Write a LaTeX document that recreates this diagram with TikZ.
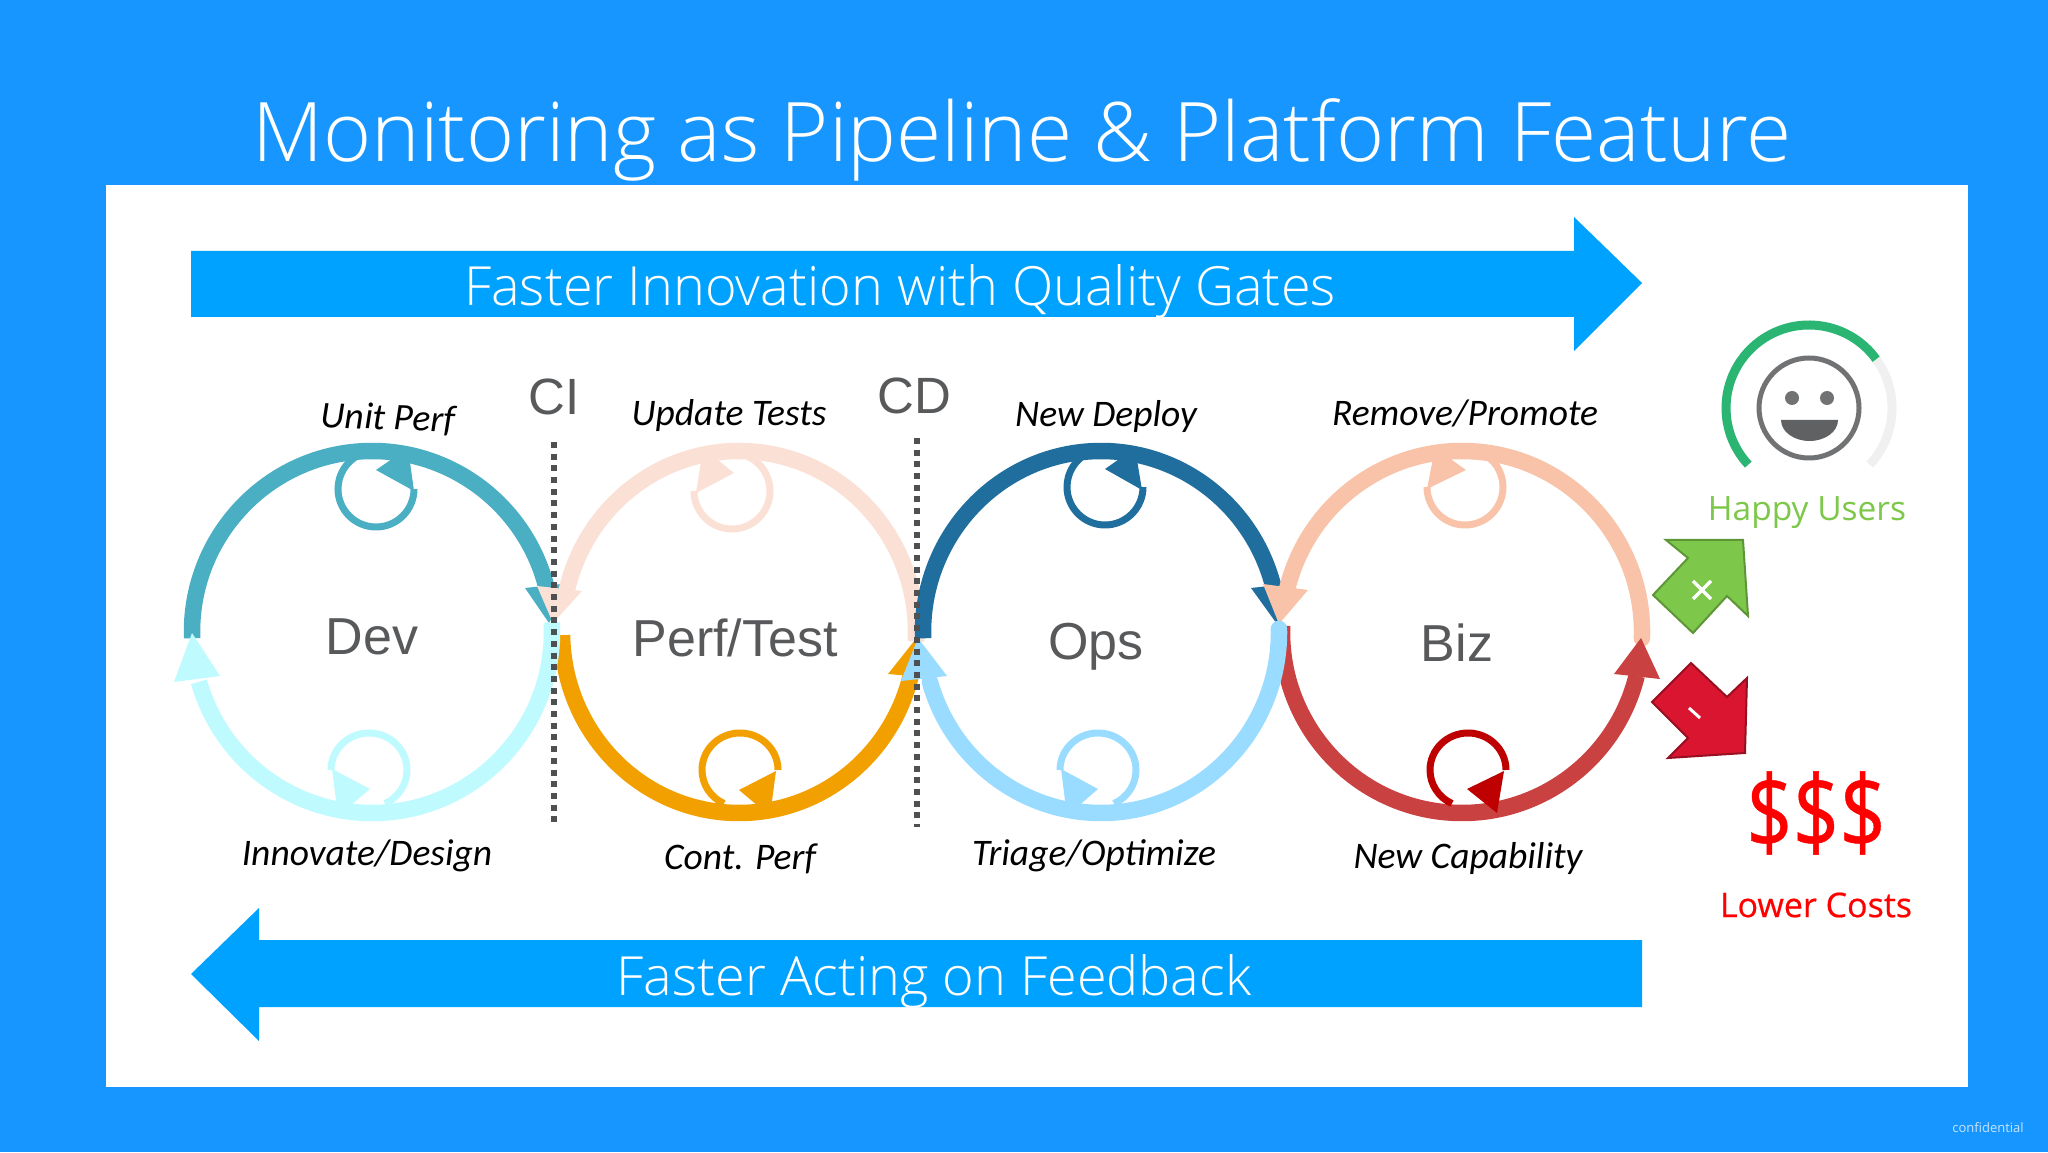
\documentclass[tikz,border=0pt]{standalone}
\usepackage{fontspec}
\setmainfont{Open Sans}
\newfontfamily\lightfont{Open Sans Light}
\newfontfamily\heavyfont{Open Sans}[FakeBold=0.5]
\newfontfamily\ringfont{Liberation Sans}
\newfontfamily\labelfont{Carlito}
\usepackage{xcolor}
\definecolor{skyback}{HTML}{1796FF}
\definecolor{barblue}{HTML}{00A2FF}
\definecolor{devtop}{HTML}{4BAFC4}
\definecolor{devbot}{HTML}{BFFAFE}
\definecolor{perftop}{HTML}{FBE0D5}
\definecolor{perfbot}{HTML}{F2A000}
\definecolor{opstop}{HTML}{1F6E9E}
\definecolor{opsbot}{HTML}{9ADCFF}
\definecolor{biztop}{HTML}{F8C3A9}
\definecolor{bizbot}{HTML}{C94140}
\definecolor{bizloop}{HTML}{BE0000}
\definecolor{darkgrey}{HTML}{58595B}
\definecolor{happygreen}{HTML}{7DC84A}
\definecolor{gaugegreen}{HTML}{2BB573}
\definecolor{downred}{HTML}{DA1530}
\tikzset{
  ring/.style={line width=16.5pt},
  curl/.style={line width=7pt},
  gate/.style={dash pattern=on 6pt off 5.7pt,line width=6pt,color=darkgrey!90!black},
  step name/.style={font=\ringfont\fontsize{52}{62}\selectfont,text=darkgrey},
  gate name/.style={font=\ringfont\fontsize{51}{60}\selectfont,text=darkgrey},
  act name/.style={font=\labelfont\itshape\fontsize{37.5}{44}\selectfont,text=black},
  bar name/.style={font=\lightfont\fontsize{54}{64}\selectfont,text=white},
}

\begin{document}
\begin{tikzpicture}[x=1pt,y=1pt]
\useasboundingbox (0,0) rectangle (2048,1152);
\fill[skyback] (0,0) rectangle (2048,1152);
\fill[white] (106,65) rectangle (1968,967);
\node[font=\lightfont\fontsize{82.2}{98}\selectfont,text=white] (title) at (1022,1012) {Monitoring as Pipeline \& Platform Feature};
\node[font=\fontsize{13}{16}\selectfont,text=white!75!skyback] (conf) at (1988,24) {confidential};

% bars
\fill[barblue] (191,901) -- (1574,901) -- (1574,935) -- (1642,869) -- (1574,801) -- (1574,835) -- (191,835) -- cycle;
\node[bar name] (fast) at (900,861) {Faster Innovation with Quality Gates};
\fill[barblue] (1642,212) -- (259,212) -- (259,244) -- (191,178) -- (259,111) -- (259,145) -- (1642,145) -- cycle;
\node[bar name] (back) at (934,171) {Faster Acting on Feedback};

% Dev
\draw[ring,devtop] (372,520) ++(182:180 and 181) arc[start angle=182,end angle=14,x radius=180,y radius=181];
\fill[devtop] (549,529) -- (525,564) -- (571,569) -- cycle;
\draw[curl,devtop] (376,663) ++(0:38 and 38) arc[start angle=0,end angle=-245,x radius=38,y radius=38];
\fill[devtop] (414,661) -- (376,682) -- (408,704) -- cycle;

% Perf/Test
\draw[ring,perftop] (739,520) ++(-3:177 and 181) arc[start angle=-3,end angle=167,x radius=177,y radius=181];
\fill[perftop] (553,529) -- (537,566) -- (582,561) -- cycle;
\draw[curl,perftop] (732,661) ++(180:38 and 38) arc[start angle=180,end angle=425,x radius=38,y radius=38];
\fill[perftop] (696,659) -- (734,679) -- (703,704) -- cycle;
\draw[ring,perfbot] (739,520) ++(181:177 and 181) arc[start angle=181,end angle=346,x radius=177,y radius=181];
\fill[perfbot] (915,512) -- (888,478) -- (934,474) -- cycle;
\draw[curl,perfbot] (740,382) ++(0:38 and 37) arc[start angle=0,end angle=245,x radius=38,y radius=37];
\fill[perfbot] (776,381) -- (739,362) -- (770,336) -- cycle;

\draw[ring,devbot] (372,520) ++(3:180 and 181) arc[start angle=3,end angle=-164,x radius=180,y radius=181];
\fill[devbot] (192,519) -- (174,470) -- (220,476) -- cycle;
\draw[curl,devbot] (369,382) ++(180:38 and 37) arc[start angle=180,end angle=-65,x radius=38,y radius=37];
\fill[devbot] (332,383) -- (370,363) -- (338,336) -- cycle;

% Ops
\draw[ring,opstop] (1101,520) ++(182:178 and 181) arc[start angle=182,end angle=14,x radius=178,y radius=181];
\fill[opstop] (1277,528) -- (1251,564) -- (1296,569) -- cycle;
\draw[curl,opstop] (1105,665) ++(0:38 and 38) arc[start angle=0,end angle=-245,x radius=38,y radius=38];
\fill[opstop] (1142,662) -- (1105,683) -- (1135,704) -- cycle;

% Biz
\draw[ring,biztop,line cap=round] (1462,520) ++(-2:180 and 181) arc[start angle=-2,end angle=167,x radius=180,y radius=181];
\fill[biztop] (1279,528) -- (1263,568) -- (1308,562) -- cycle;
\draw[curl,biztop] (1465,665) ++(180:38 and 38) arc[start angle=180,end angle=425,x radius=38,y radius=38];
\fill[biztop] (1427,663) -- (1466,682) -- (1435,704) -- cycle;
\draw[ring,bizbot] (1462,520) ++(178:180 and 181) arc[start angle=178,end angle=346,x radius=180,y radius=181];
\fill[bizbot] (1641,514) -- (1614,478) -- (1660,473) -- cycle;
\draw[curl,bizloop] (1468,382) ++(0:38 and 37) arc[start angle=0,end angle=245,x radius=38,y radius=37];
\fill[bizloop] (1504,381) -- (1467,363) -- (1497,339) -- cycle;

\draw[ring,opsbot,line cap=round] (1101,520) ++(1:178 and 181) arc[start angle=1,end angle=-164,x radius=178,y radius=181];
\fill[opsbot] (918,514) -- (901,471) -- (947,476) -- cycle;
\draw[curl,opsbot] (1098,382) ++(180:38 and 37) arc[start angle=180,end angle=-65,x radius=38,y radius=37];
\fill[opsbot] (1061,383) -- (1098,363) -- (1067,336) -- cycle;

% gates
\draw[gate] (554,710) -- (554,324);
\draw[gate] (917,714) -- (917,325);
\node[gate name] (ci) at (554,755) {CI};
\node[gate name] (cd) at (914,756) {CD};

% ring names
\node[step name] (dev) at (372,515) {Dev};
\node[step name] (perf) at (735,514) {Perf/Test};
\node[step name] (ops) at (1096,505) {Ops};
\node[step name] (biz) at (1457,509) {Biz};

% activities
\node[act name,rotate=-2] (unit) at (388,733) {Unit Perf};
\node[act name] (update) at (729,736) {Update Tests};
\node[act name] (deploy) at (1106,735) {New Deploy};
\node[act name] (remove) at (1465,739) {Remove/Promote};
\node[act name] (innov) at (367,296) {Innovate/Design};
\node[act name] (cont) at (740,293) {Cont. Perf};
\node[act name] (triage) at (1094,296) {Triage/Optimize};
\node[act name] (newcap) at (1468,293) {New Capability};

% smiley gauge
\draw[line width=9pt,color=black!6] (1809,744) ++(36:83) arc[start angle=36,end angle=-43,radius=83];
\draw[line width=9pt,color=gaugegreen] (1809,744) ++(36:83) arc[start angle=36,end angle=223,radius=83];
\draw[line width=5pt,color=darkgrey!85] (1809,744) ellipse (50 and 50);
\fill[darkgrey!85] (1792,754) circle (7);
\fill[darkgrey!85] (1827,754) circle (7);
\fill[darkgrey!95] (1781,732) arc[start angle=180,end angle=360,x radius=28.5,y radius=21] -- cycle;
\node[font=\fontsize{33.5}{44}\selectfont,text=happygreen] (happy) at (1807,639) {Happy Users};

% up and down
\draw[line width=2pt,draw=happygreen!75!black,fill=happygreen] (1666,612) -- (1743,612) -- (1748,536) -- (1727,556) -- (1693,519) -- (1653,557) -- (1688,594) -- cycle;
\draw[line width=3.5pt,white] (1693,553) -- (1711,571);
\draw[line width=3.5pt,white] (1693,571) -- (1711,553);
\draw[line width=2pt,draw=downred!70!black,fill=downred] (1691,489) -- (1727,455) -- (1747,474) -- (1745,399) -- (1668,394) -- (1688,414) -- (1652,450) -- cycle;
\draw[line width=3pt,white] (1689,444) -- (1700,434);
\node[font=\heavyfont\fontsize{102}{110}\selectfont,text=red,xscale=0.8,transform shape] (money) at (1816,339) {\$\$\$};
\node[font=\heavyfont\fontsize{34}{44}\selectfont,text=red] (lower) at (1816,247) {Lower Costs};
\end{tikzpicture}
\end{document}
